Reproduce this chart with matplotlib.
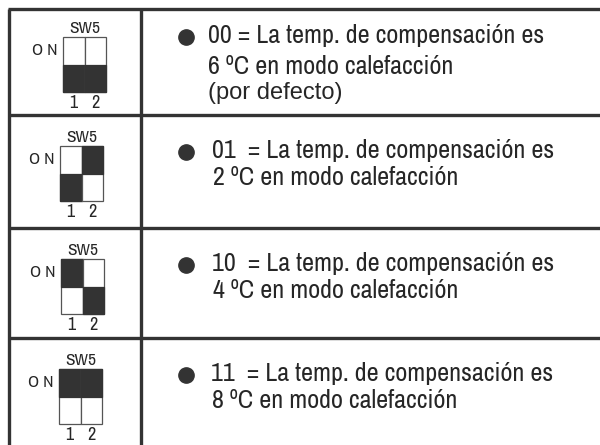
import matplotlib
matplotlib.use("Agg")
import matplotlib.pyplot as plt
from matplotlib.patches import Rectangle

# switch codes (SW5 positions 1 and 2) and the heating offset they select
codes = ["00", "01", "10", "11"]
temps = [6, 2, 4, 8]
line1 = ["00 = La temp. de compensación es",
         "01  = La temp. de compensación es",
         "10  = La temp. de compensación es",
         "11  = La temp. de compensación es"]
line2 = ["%d ºC en modo calefacción" % t for t in temps]
notes = ["(por defecto)", "", "", ""]

# layout in pixels (figure is 600x445)
row_top = [9, 115, 228, 338]
box_left = [63, 60, 61, 59]
box_off = [28, 31, 31, 31]
base_off = [34, 43, 43, 43]      # baseline of first text line below row top
line_gap = [31, 27, 27, 27]
text_x = [208, 212, 212, 211]
line2_x = [208, 213, 213, 212]
BOX_W, BOX_H = 43, 55
DARK = "#333333"
TXT = "#262626"
NARROW = ["Archivo Narrow", "DejaVu Sans"]

fig = plt.figure(figsize=(6, 4.45), dpi=100)
ax = fig.add_axes([0, 0, 1, 1])
ax.set_xlim(0, 600)
ax.set_ylim(445, 0)
ax.axis("off")

# table grid
ax.plot([9, 9], [9, 445], color=DARK, lw=2.4, solid_capstyle="butt")
ax.plot([141, 141], [9, 445], color=DARK, lw=2.4, solid_capstyle="butt")
for y in row_top:
    ax.plot([8, 600], [y, y], color=DARK, lw=2.4, solid_capstyle="butt")

for i, code in enumerate(codes):
    top = row_top[i]
    bx = box_left[i]
    by = top + box_off[i]
    half_w = BOX_W / 2
    half_h = BOX_H / 2
    for k in range(2):
        x0 = bx + k * half_w
        on = code[k] == "1"
        ax.add_patch(Rectangle((x0, by), half_w, BOX_H, facecolor="white",
                               edgecolor="#555555", lw=0.9))
        fy = by if on else by + half_h
        ax.add_patch(Rectangle((x0, fy), half_w, half_h, facecolor=DARK,
                               edgecolor=DARK, lw=0.9))
    ax.text(bx + half_w, by - 4, "SW5", fontsize=12.5, family=NARROW,
            ha="center", va="baseline", color=TXT)
    ax.text(bx - 18, by + 18, "O N", fontsize=12.5, family=NARROW,
            ha="center", va="baseline", color=TXT)
    ax.text(bx + half_w * 0.5, by + BOX_H + 16, "1", fontsize=13, family=NARROW,
            ha="center", va="baseline", color=TXT)
    ax.text(bx + half_w * 1.5, by + BOX_H + 16, "2", fontsize=13, family=NARROW,
            ha="center", va="baseline", color=TXT)

    ty = top + base_off[i]
    ax.plot([186], [ty - 6], "o", color=DARK, ms=11)
    ax.text(text_x[i], ty, line1[i], fontsize=18.8, family=NARROW,
            ha="left", va="baseline", color=TXT)
    ax.text(line2_x[i], ty + line_gap[i], line2[i], fontsize=18.8, family=NARROW,
            ha="left", va="baseline", color=TXT)
    if notes[i]:
        ax.text(line2_x[i], ty + 2 * line_gap[i] - 6, notes[i], fontsize=17,
                family=["Liberation Sans", "DejaVu Sans"],
                ha="left", va="baseline", color=TXT)

fig.savefig("out.png", dpi=100)
